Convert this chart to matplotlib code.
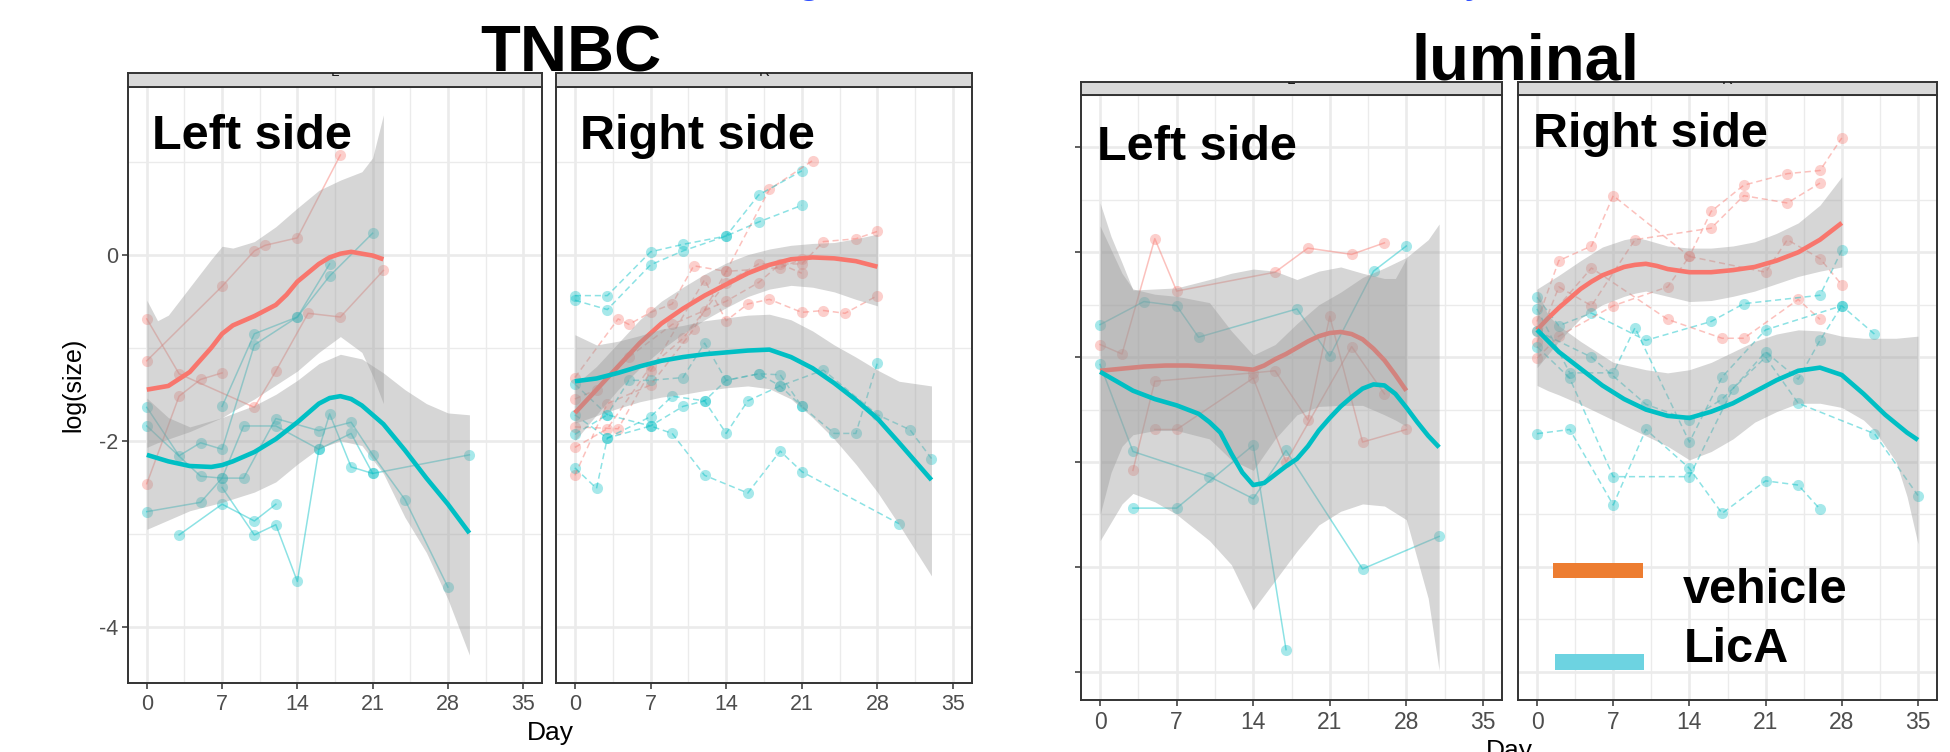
import matplotlib
matplotlib.use("Agg")
import matplotlib.pyplot as plt
from matplotlib.patches import Rectangle

plt.rcParams['font.family'] = ['Liberation Sans', 'DejaVu Sans']

W, H = 1950, 752
RED = "#F8766D"
CYAN = "#00BFC4"

# ---------------- data: TNBC, left side ----------------
tl_veh_days = [[0, 7, 10, 11, 14, 18], [0, 3, 10, 12, 15, 18, 22], [0, 3, 5, 7]]
tl_veh_vals = [[-1.14, -0.34, 0.04, 0.10, 0.18, 1.07],
               [-0.69, -1.28, -1.64, -1.25, -0.63, -0.67, -0.17],
               [-2.46, -1.52, -1.34, -1.27]]
tl_lica_days = [[7, 10, 14, 17, 21], [0, 3, 5, 7, 10, 14, 17],
                [0, 5, 7, 9, 12, 16, 19, 21, 24, 28], [0, 5, 7, 9, 12, 16, 17, 19, 21, 30],
                [3, 7, 10, 12], [7, 10, 12, 14, 16, 19, 21]]
tl_lica_vals = [[-1.63, -0.85, -0.67, -0.23, 0.23],
                [-1.64, -2.16, -2.02, -2.09, -0.97, -0.67, -0.10],
                [-1.84, -2.38, -2.40, -2.40, -1.76, -1.89, -1.80, -2.15, -2.63, -3.57],
                [-2.76, -2.66, -2.40, -1.84, -1.84, -2.09, -1.71, -2.28, -2.35, -2.15],
                [-3.01, -2.68, -2.86, -2.68],
                [-2.50, -3.01, -2.90, -3.51, -2.09, -1.92, -2.35]]
tl_veh_fit_days = [0, 2, 4, 6, 7, 8, 10, 12, 13, 14, 16, 17, 18, 19, 20, 21, 22]
tl_veh_fit = [-1.45, -1.41, -1.26, -1.00, -0.85, -0.76, -0.66, -0.54, -0.43, -0.29, -0.10,
              -0.03, 0.01, 0.03, 0.01, -0.01, -0.05]
tl_veh_band_days = [0, 1, 2, 4, 6, 7, 8, 10, 12, 14, 16, 18, 20, 21, 22]
tl_veh_lo = [-2.07, -2.02, -1.98, -1.90, -1.80, -1.75, -1.68, -1.55, -1.40, -1.25, -1.05,
             -0.88, -1.05, -1.30, -1.60]
tl_veh_hi = [-0.49, -0.71, -0.65, -0.35, -0.05, 0.09, 0.07, 0.14, 0.30, 0.50, 0.69, 0.80,
             0.89, 1.04, 1.50]
tl_lica_fit_days = [0, 2, 4, 6, 7, 8, 10, 12, 14, 16, 17, 18, 19, 20, 21, 22, 24, 26, 28, 30]
tl_lica_fit = [-2.15, -2.22, -2.27, -2.28, -2.26, -2.22, -2.12, -1.98, -1.80, -1.60, -1.54,
               -1.52, -1.55, -1.62, -1.72, -1.82, -2.10, -2.40, -2.68, -2.99]
tl_lica_band_days = [0, 2, 4, 7, 10, 12, 14, 16, 18, 20, 22, 24, 26, 28, 30]
tl_lica_lo = [-2.95, -2.85, -2.75, -2.66, -2.55, -2.44, -2.25, -2.08, -2.00, -2.05, -2.35,
              -2.82, -3.20, -3.70, -4.30]
tl_lica_hi = [-1.54, -1.75, -1.85, -1.75, -1.62, -1.50, -1.35, -1.17, -1.07, -1.12, -1.27,
              -1.45, -1.60, -1.70, -1.72]

# ---------------- data: TNBC, right side ----------------
tr_veh_days = [[0, 4, 5, 7, 9, 11, 14, 18, 22], [0, 4, 7, 12, 14, 16, 18, 21, 23, 25, 28],
               [0, 3, 7, 10, 14, 17, 21, 23, 26, 28], [0, 3, 7, 11, 14, 19, 21],
               [0, 2, 5, 9, 12, 14, 17, 19, 21]]
tr_veh_vals = [[-1.32, -0.69, -0.75, -0.62, -0.53, -0.12, -0.18, 0.70, 1.01],
               [-1.85, -1.87, -1.25, -0.27, -0.71, -0.53, -0.48, -0.62, -0.60, -0.63, -0.44],
               [-2.07, -1.87, -1.20, -0.90, -0.30, -0.10, -0.10, 0.14, 0.17, 0.25],
               [-2.37, -1.60, -1.40, -0.80, -0.18, -0.14, -0.05],
               [-1.55, -1.45, -1.10, -0.75, -0.60, -0.50, -0.30, -0.10, -0.20]]
tr_lica_days = [[0, 3, 7, 10, 14, 17, 21], [0, 3, 7, 10, 14, 17, 21],
                [0, 3, 5, 7, 10, 12, 14, 17, 19, 21, 24, 26, 28],
                [0, 3, 7, 9, 12, 14, 16, 19, 23, 28, 31, 33],
                [0, 2, 3, 7, 9, 12, 16, 19, 21, 30], [0, 3, 7, 10, 12, 14, 17, 19, 21]]
tr_lica_vals = [[-0.44, -0.44, 0.03, 0.11, 0.20, 0.64, 0.90],
                [-0.49, -0.59, -0.11, 0.04, 0.20, 0.35, 0.53],
                [-1.39, -1.72, -1.35, -1.35, -1.32, -0.95, -1.35, -1.28, -1.29, -1.63, -1.92, -1.92, -1.16],
                [-1.72, -1.97, -1.74, -1.52, -1.57, -1.92, -1.57, -1.41, -1.24, -1.72, -1.88, -2.19],
                [-2.29, -2.51, -1.97, -1.84, -1.92, -2.37, -2.56, -2.11, -2.33, -2.89],
                [-1.93, -1.72, -1.84, -1.63, -1.57, -1.35, -1.28, -1.41, -1.63]]
tr_veh_fit_days = [0, 2, 4, 6, 8, 10, 12, 14, 16, 18, 20, 22, 24, 26, 28]
tr_veh_fit = [-1.70, -1.45, -1.20, -0.95, -0.74, -0.58, -0.44, -0.32, -0.20, -0.11, -0.05,
              -0.03, -0.04, -0.07, -0.13]
tr_veh_lo = [-2.00, -1.72, -1.45, -1.22, -1.02, -0.85, -0.70, -0.57, -0.45, -0.37, -0.33,
             -0.35, -0.40, -0.48, -0.55]
tr_veh_hi = [-1.40, -1.20, -0.95, -0.70, -0.50, -0.35, -0.21, -0.09, 0.00, 0.06, 0.10, 0.12,
             0.13, 0.17, 0.22]
tr_lica_fit_days = [0, 2, 4, 6, 8, 10, 12, 14, 16, 18, 20, 22, 24, 26, 28, 30, 33]
tr_lica_fit = [-1.36, -1.33, -1.27, -1.20, -1.14, -1.10, -1.07, -1.05, -1.03, -1.02, -1.10,
               -1.22, -1.38, -1.56, -1.76, -2.02, -2.42]
tr_lica_lo = [-1.81, -1.73, -1.65, -1.58, -1.53, -1.50, -1.46, -1.43, -1.41, -1.44, -1.55,
              -1.75, -1.98, -2.25, -2.55, -2.90, -3.45]
tr_lica_hi = [-0.86, -0.97, -0.93, -0.87, -0.80, -0.76, -0.71, -0.68, -0.65, -0.64, -0.70,
              -0.82, -0.97, -1.10, -1.24, -1.36, -1.41]

# ---------------- data: luminal, left side ----------------
ll_veh_days = [[0, 2, 5, 7, 16, 19, 23, 26], [3, 5, 14, 16, 19, 21, 24, 28], [5, 7, 14, 17, 23, 26]]
ll_veh_vals = [[-0.88, -0.97, 0.13, -0.37, -0.19, 0.04, -0.02, 0.09],
               [-2.08, -1.23, -1.15, -1.13, -1.60, -0.61, -1.81, -1.69],
               [-1.69, -1.69, -1.20, -2.00, -0.90, -1.35]]
ll_lica_days = [[0, 4, 7, 9, 18, 21, 25, 28], [0, 3, 10, 14, 17, 24, 31], [3, 7, 14, 17]]
ll_lica_vals = [[-0.69, -0.47, -0.51, -0.81, -0.54, -0.99, -0.18, 0.06],
                [-1.07, -1.90, -2.14, -2.35, -1.89, -3.02, -2.71],
                [-2.44, -2.44, -1.84, -3.79]]
ll_veh_fit_days = [0, 2, 4, 6, 8, 10, 12, 14, 15, 16, 17, 18, 19, 20, 21, 22, 23, 24, 25, 26, 27, 28]
ll_veh_fit = [-1.13, -1.11, -1.09, -1.08, -1.08, -1.09, -1.10, -1.12, -1.08, -1.02, -0.97,
              -0.91, -0.85, -0.80, -0.77, -0.76, -0.78, -0.83, -0.92, -1.03, -1.17, -1.32]
ll_veh_band_days = [0, 1, 2, 3, 5, 7, 10, 12, 14, 16, 18, 20, 22, 24, 26, 27, 28]
ll_veh_lo = [-2.50, -2.10, -1.85, -1.74, -1.70, -1.70, -1.78, -1.98, -2.08, -1.78, -1.55,
             -1.47, -1.46, -1.46, -1.55, -1.60, -1.66]
ll_veh_hi = [0.47, 0.15, -0.10, -0.36, -0.35, -0.34, -0.26, -0.20, -0.16, -0.18, -0.26,
             -0.18, -0.14, -0.20, -0.25, -0.25, -0.06]
ll_lica_fit_days = [0, 3, 5, 7, 9, 10, 11, 12, 13, 14, 15, 16, 17, 18, 19, 20, 21, 22, 23,
                    24, 25, 26, 27, 28, 29, 30, 31]
ll_lica_fit = [-1.14, -1.32, -1.40, -1.46, -1.54, -1.62, -1.72, -1.92, -2.10, -2.22, -2.20,
               -2.12, -2.04, -1.97, -1.85, -1.70, -1.58, -1.47, -1.38, -1.30, -1.26, -1.27,
               -1.35, -1.48, -1.62, -1.75, -1.86]
ll_lica_band_days = [0, 2, 3, 5, 7, 10, 12, 14, 16, 18, 20, 22, 24, 26, 28, 30, 31]
ll_lica_lo = [-2.75, -2.40, -2.30, -2.38, -2.50, -2.75, -2.98, -3.41, -3.13, -2.85, -2.60,
              -2.47, -2.40, -2.42, -2.55, -3.30, -3.99]
ll_lica_hi = [0.25, -0.20, -0.35, -0.40, -0.42, -0.48, -0.75, -0.98, -0.88, -0.68, -0.50,
              -0.38, -0.24, -0.15, -0.05, 0.12, 0.27]

# ---------------- data: luminal, right side ----------------
lr_veh_days = [[0, 2, 5, 7, 14, 16, 19, 23, 26, 28], [0, 2, 5, 9, 16, 19, 23, 26],
               [0, 2, 7, 12, 14, 21, 23, 26, 28], [0, 5, 12, 17, 19, 24, 26]]
lr_veh_vals = [[-0.66, -0.08, 0.06, 0.54, -0.04, 0.39, 0.64, 0.75, 0.78, 1.09],
               [-0.86, -0.33, -0.51, 0.12, 0.23, 0.54, 0.47, 0.66],
               [-1.01, -0.80, -0.51, -0.33, -0.04, -0.19, 0.12, -0.06, -0.31],
               [-0.75, -0.15, -0.64, -0.82, -0.82, -0.45, -0.64]]
lr_lica_days = [[0, 2, 5, 10, 16, 19, 26, 28], [0, 3, 7, 9, 14, 17, 21, 28, 31],
                [0, 3, 7, 10, 14, 17, 21, 24, 26], [0, 3, 7, 14, 18, 21, 24, 26, 28],
                [0, 5, 10, 14, 17, 21, 24, 31, 35]]
lr_lica_vals = [[-0.43, -0.70, -0.58, -0.84, -0.66, -0.49, -0.41, 0.02],
                [-0.54, -1.15, -1.15, -0.72, -1.81, -1.19, -0.74, -0.51, -0.78],
                [-1.73, -1.69, -2.41, -1.69, -2.06, -2.49, -2.18, -2.22, -2.45],
                [-0.90, -1.20, -2.14, -2.14, -1.30, -0.95, -1.21, -0.84, -0.51],
                [-0.75, -1.00, -1.45, -1.60, -1.40, -1.00, -1.44, -1.73, -2.32]]
lr_veh_fit_days = [0, 1, 2, 3, 4, 5, 6, 7, 8, 9, 10, 11, 12, 14, 16, 18, 20, 22, 24, 26, 28]
lr_veh_fit = [-0.74, -0.63, -0.53, -0.44, -0.35, -0.28, -0.22, -0.18, -0.14, -0.12, -0.11,
              -0.13, -0.16, -0.19, -0.19, -0.17, -0.14, -0.08, 0.00, 0.12, 0.28]
lr_veh_band_days = [0, 2, 4, 6, 8, 9, 10, 12, 14, 16, 18, 20, 22, 24, 26, 28]
lr_veh_lo = [-1.10, -0.85, -0.63, -0.50, -0.42, -0.39, -0.37, -0.42, -0.47, -0.46, -0.42,
             -0.37, -0.30, -0.23, -0.18, -0.14]
lr_veh_hi = [-0.35, -0.22, -0.08, 0.05, 0.12, 0.14, 0.12, 0.06, 0.04, 0.04, 0.06, 0.10,
             0.18, 0.28, 0.45, 0.72]
lr_lica_fit_days = [0, 2, 4, 6, 8, 10, 12, 14, 16, 18, 20, 22, 24, 26, 28, 30, 32, 34, 35]
lr_lica_fit = [-0.74, -0.95, -1.11, -1.27, -1.40, -1.50, -1.56, -1.58, -1.52, -1.44, -1.33,
               -1.22, -1.13, -1.10, -1.17, -1.35, -1.55, -1.72, -1.79]
lr_lica_band_days = [0, 1, 2, 4, 7, 10, 12, 14, 16, 18, 20, 22, 24, 26, 28, 30, 31, 33, 34, 35]
lr_lica_lo = [-1.27, -1.32, -1.36, -1.45, -1.60, -1.75, -1.85, -1.98, -1.90, -1.78, -1.62,
              -1.52, -1.44, -1.44, -1.48, -1.60, -1.70, -2.00, -2.33, -2.78]
lr_lica_hi = [-0.35, -0.60, -0.70, -0.85, -1.05, -1.12, -1.15, -1.12, -1.05, -0.95, -0.85,
              -0.78, -0.74, -0.75, -0.80, -0.82, -0.82, -0.82, -0.81, -0.80]

# axis breaks
day_ticks = [0, 7, 14, 21, 28, 35]
day_minor = [3.5, 10.5, 17.5, 24.5, 31.5]
tnbc_yticks = [-4, -2, 0]
tnbc_yticklabels = ['-4', '-2', '0']
tnbc_yminor = [-3, -1, 1]
lum_yticks = [-4, -3, -2, -1, 0, 1]
lum_yminor = [-3.5, -2.5, -1.5, -0.5, 0.5, 1.5]

legend_labels = ['vehicle', 'LicA']
legend_colors = ['#ED7D31', '#6DD3E1']


def box(l, t, r, b):
    # pixel box (from top-left) -> figure fraction rect
    return [l / W, 1 - b / H, (r - l) / W, (b - t) / H]


def ftext(x, y, s, **kw):
    fig.text(x / W, 1 - y / H, s, **kw)


def strip(l, t, r, b, label):
    sax = fig.add_axes(box(l, t, r, b))
    sax.set_facecolor('#D9D9D9')
    sax.set_xticks([])
    sax.set_yticks([])
    for s in sax.spines.values():
        s.set_color('#333333')
        s.set_linewidth(1.4)
    # facet label, mostly cut off by the crop of the slide
    sax.text(0.5, 1 - 2.5 / (b - t), label, transform=sax.transAxes, ha='center',
             va='baseline', fontsize=11, color='#1A1A1A', clip_on=True)


def draw_panel(ax, vd, vv, ld, lv, vfit, lfit, dashed, ylim, yticks, yminor, ylabels,
               tick_size, show_y):
    ls = (0, (4, 2.5)) if dashed else '-'
    for days, vals in zip(vd, vv):
        ax.plot(days, vals, 'o', ms=8, color=RED, alpha=0.35, mec='none', zorder=2)
    for days, vals in zip(ld, lv):
        ax.plot(days, vals, 'o', ms=8, color=CYAN, alpha=0.35, mec='none', zorder=2)
    for days, vals in zip(vd, vv):
        ax.plot(days, vals, color=RED, lw=1.1, ls=ls, alpha=0.45, zorder=2)
    for days, vals in zip(ld, lv):
        ax.plot(days, vals, color=CYAN, lw=1.1, ls=ls, alpha=0.45, zorder=2)

    for (fd, fv, bd, lo, hi), col in ((vfit, RED), (lfit, CYAN)):
        ax.fill_between(bd, lo, hi, color='#999999', alpha=0.4, lw=0, zorder=3)
        ax.plot(fd, fv, color=col, lw=3.3, solid_capstyle='butt', zorder=3)

    ax.set_xlim(-1.75, 36.75)
    ax.set_ylim(*ylim)
    ax.set_xticks(day_ticks)
    ax.set_xticks(day_minor, minor=True)
    ax.set_yticks(yticks)
    ax.set_yticks(yminor, minor=True)
    if ylabels is not None:
        ax.set_yticklabels(ylabels)
    else:
        ax.set_yticklabels([])
    ax.grid(which='major', color='#EBEBEB', lw=1.9)
    ax.grid(which='minor', color='#EBEBEB', lw=1.0)
    ax.set_axisbelow(True)
    for s in ax.spines.values():
        s.set_color('#333333')
        s.set_linewidth(1.4)
    ax.tick_params(which='major', length=4.3, width=1.1, color='#333333',
                   labelcolor='#4D4D4D', labelsize=tick_size)
    ax.tick_params(axis='x', pad=3.5)
    ax.tick_params(axis='y', pad=3)
    ax.tick_params(which='minor', length=0)
    if not show_y:
        ax.tick_params(axis='y', length=0)


fig = plt.figure(figsize=(W / 100, H / 100), dpi=100)
fig.patch.set_facecolor('white')

# TNBC panels
ax1 = fig.add_axes(box(128, 87, 542, 683))
draw_panel(ax1, tl_veh_days, tl_veh_vals, tl_lica_days, tl_lica_vals,
           (tl_veh_fit_days, tl_veh_fit, tl_veh_band_days, tl_veh_lo, tl_veh_hi),
           (tl_lica_fit_days, tl_lica_fit, tl_lica_band_days, tl_lica_lo, tl_lica_hi),
           False, (-4.6, 1.8), tnbc_yticks, tnbc_yminor, tnbc_yticklabels, 15.5, True)
ax2 = fig.add_axes(box(556, 87, 972, 683))
draw_panel(ax2, tr_veh_days, tr_veh_vals, tr_lica_days, tr_lica_vals,
           (tr_veh_fit_days, tr_veh_fit, tr_veh_fit_days, tr_veh_lo, tr_veh_hi),
           (tr_lica_fit_days, tr_lica_fit, tr_lica_fit_days, tr_lica_lo, tr_lica_hi),
           True, (-4.6, 1.8), tnbc_yticks, tnbc_yminor, None, 15.5, False)
strip(128, 73, 542, 87, 'L')
strip(556, 73, 972, 87, 'R')

# luminal panels
ax3 = fig.add_axes(box(1081, 95, 1502, 700))
draw_panel(ax3, ll_veh_days, ll_veh_vals, ll_lica_days, ll_lica_vals,
           (ll_veh_fit_days, ll_veh_fit, ll_veh_band_days, ll_veh_lo, ll_veh_hi),
           (ll_lica_fit_days, ll_lica_fit, ll_lica_band_days, ll_lica_lo, ll_lica_hi),
           False, (-4.27, 1.5), lum_yticks, lum_yminor, None, 16.5, True)
ax4 = fig.add_axes(box(1518, 95, 1937, 700))
draw_panel(ax4, lr_veh_days, lr_veh_vals, lr_lica_days, lr_lica_vals,
           (lr_veh_fit_days, lr_veh_fit, lr_veh_band_days, lr_veh_lo, lr_veh_hi),
           (lr_lica_fit_days, lr_lica_fit, lr_lica_band_days, lr_lica_lo, lr_lica_hi),
           True, (-4.27, 1.5), lum_yticks, lum_yminor, None, 16.5, False)
strip(1081, 82, 1502, 95, 'L')
strip(1518, 82, 1937, 95, 'R')

# axis titles
ftext(550, 733, 'Day', ha='center', va='center', fontsize=19)
ftext(1509, 739, 'Day', ha='center', va='top', fontsize=19)
ftext(73, 385, 'log(size)', ha='center', va='center', rotation=90, fontsize=18)

# slide annotations
ftext(571, 72, 'TNBC', ha='center', va='baseline', fontsize=47, fontweight='bold')
ftext(1525, 80, 'luminal', ha='center', va='baseline', fontsize=47, fontweight='bold')
ftext(152, 149, 'Left side', ha='left', va='baseline', fontsize=35, fontweight='bold')
ftext(580, 149, 'Right side', ha='left', va='baseline', fontsize=35, fontweight='bold')
ftext(1097, 160, 'Left side', ha='left', va='baseline', fontsize=35, fontweight='bold')
ftext(1533, 147, 'Right side', ha='left', va='baseline', fontsize=35, fontweight='bold')

# cut-off slide heading (only descenders visible)
ftext(808, -8, 'g', ha='center', va='baseline', fontsize=32, color='#2A4BFF')
ftext(1476, -8, 'y', ha='center', va='baseline', fontsize=32, color='#2A4BFF')

# hand-made legend
for (l, t, r, b), col in zip([(1553, 563, 1643, 578), (1555, 654, 1644, 670)], legend_colors):
    fig.add_artist(Rectangle((l / W, 1 - b / H), (r - l) / W, (b - t) / H,
                             transform=fig.transFigure, color=col, lw=0))
ftext(1683, 603, legend_labels[0], ha='left', va='baseline', fontsize=35, fontweight='bold')
ftext(1684, 662, legend_labels[1], ha='left', va='baseline', fontsize=35, fontweight='bold')

fig.savefig('out.png', dpi=100, facecolor='white')
